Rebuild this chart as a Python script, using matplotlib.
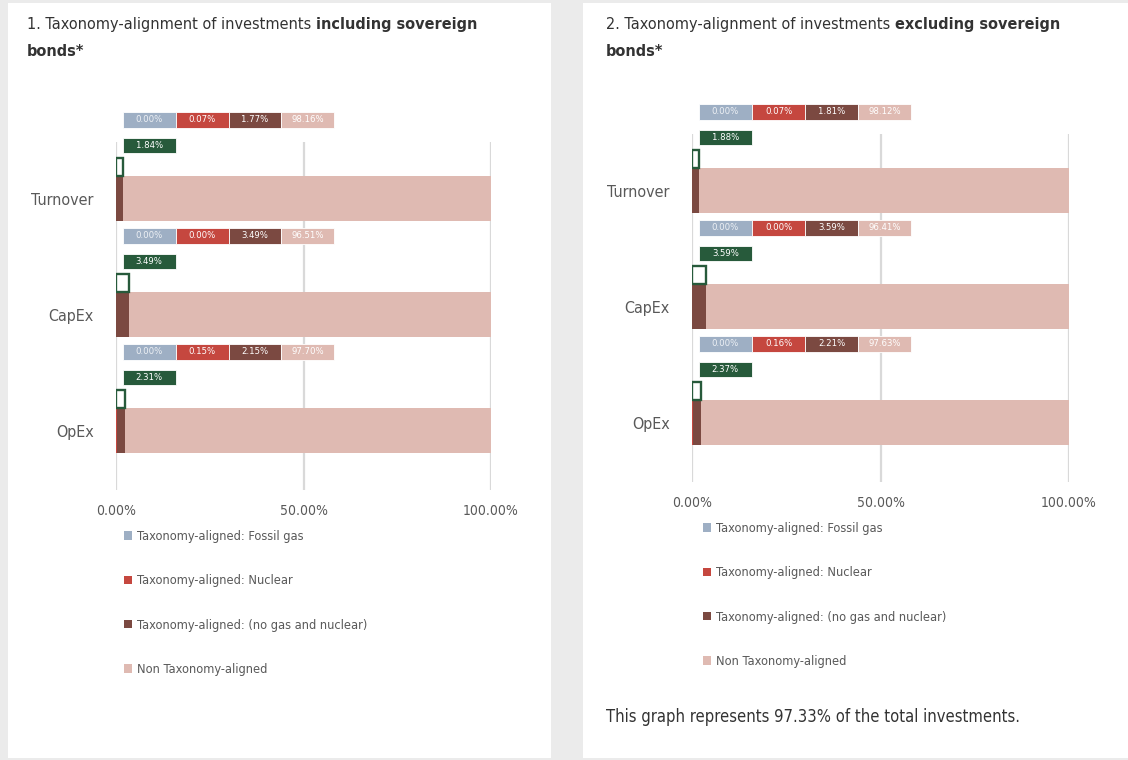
"""Taxonomy-alignment stacked bars, incl./excl. sovereign bonds."""

import matplotlib

matplotlib.use("Agg")
import matplotlib.pyplot as plt  # noqa: E402
import numpy as np  # noqa: E402
from matplotlib import font_manager  # noqa: E402
from matplotlib.patches import Rectangle  # noqa: E402

categories = ["Turnover", "CapEx", "OpEx"]
series_names = [
    "Taxonomy-aligned: Fossil gas",
    "Taxonomy-aligned: Nuclear",
    "Taxonomy-aligned: (no gas and nuclear)",
    "Non Taxonomy-aligned",
]

# including sovereign bonds
incl_gas = [0.00, 0.00, 0.00]
incl_nuclear = [0.07, 0.00, 0.15]
incl_other = [1.77, 3.49, 2.15]
incl_non = [98.16, 96.51, 97.70]
incl_total = [1.84, 3.49, 2.31]

# excluding sovereign bonds
excl_gas = [0.00, 0.00, 0.00]
excl_nuclear = [0.07, 0.00, 0.16]
excl_other = [1.81, 3.59, 2.21]
excl_non = [98.12, 96.41, 97.63]
excl_total = [1.88, 3.59, 2.37]

x_ticks = [0, 50, 100]

COLORS = ["#9eafc4", "#c5473f", "#7b4941", "#dfbab2"]
LABEL_TXT = ["#eef1f5", "#ffffff", "#ffffff", "#ffffff"]
GREEN = "#275a3b"
GRID = "#d9d9d9"
TEXT = "#595959"
BG = "#ebebeb"

W, H = 1128, 760

names = {f.name for f in font_manager.fontManager.ttflist}
if "Liberation Sans Narrow" in names:
    FAMILY = "Liberation Sans Narrow"
    STRETCH = "normal"
else:
    FAMILY = "DejaVu Sans"
    STRETCH = "condensed"
plt.rcParams["font.family"] = [FAMILY, "DejaVu Sans"]
plt.rcParams["font.stretch"] = STRETCH


def px(x, y):
    return x / W, 1 - y / H


def ax_rect(left, right, top, bottom):
    return [left / W, 1 - bottom / H, (right - left) / W, (bottom - top) / H]


def draw_panel(fig, rect, stacks, totals, legend_xy):
    ax = fig.add_axes(rect)
    ax.set_zorder(2)
    ypos = np.arange(len(categories))[::-1].astype(float)
    bar_h = 0.39
    for x in x_ticks:
        ax.axvline(x, color=GRID, lw=1.6, zorder=0)

    handles = []
    left = np.zeros(len(categories))
    for vals, color in zip(stacks, COLORS):
        vals = np.asarray(vals)
        bc = ax.barh(ypos, vals, left=left, height=bar_h, color=color,
                     edgecolor="none", zorder=2)
        handles.append(bc)
        left = left + vals

    # outlined total-aligned bar sitting on top of each stacked bar
    out_h = 0.155
    ax.barh(ypos + bar_h / 2 + out_h / 2, totals, height=out_h,
            facecolor="white", edgecolor=GREEN, lw=1.7, zorder=3)

    # data-label callouts
    x0, bw, bh = 1.8, 14.1, 0.13
    for i, yc in enumerate(ypos):
        for j, vals in enumerate(stacks):
            r = Rectangle((x0 + j * bw, yc + 0.68 - bh / 2), bw, bh,
                          facecolor=COLORS[j], edgecolor="white", lw=0.6,
                          clip_on=False, zorder=4)
            ax.add_patch(r)
            ax.text(x0 + j * bw + bw / 2, yc + 0.68, f"{vals[i]:.2f}%",
                    ha="center", va="center", fontsize=6.8,
                    color=LABEL_TXT[j], clip_on=False, zorder=5)
        r = Rectangle((x0, yc + 0.46 - bh / 2), bw, bh, facecolor=GREEN,
                      edgecolor="white", lw=0.6, clip_on=False, zorder=4)
        ax.add_patch(r)
        ax.text(x0 + bw / 2, yc + 0.46, f"{totals[i]:.2f}%", ha="center",
                va="center", fontsize=6.8, color="#ffffff", clip_on=False,
                zorder=5)

    ax.set_xlim(0, 100)
    ax.set_ylim(-0.51, 2.49)
    ax.set_xticks(x_ticks)
    ax.set_xticklabels([f"{v:.2f}%" for v in x_ticks])
    ax.set_yticks(ypos)
    ax.set_yticklabels(categories)
    ax.tick_params(axis="x", length=0, pad=10, labelsize=10, colors=TEXT)
    ax.tick_params(axis="y", length=0, pad=16, labelsize=11.5, colors=TEXT)
    for s in ax.spines.values():
        s.set_visible(False)
    ax.set_facecolor("none")

    leg = fig.legend(handles, series_names, loc="upper left",
                     bbox_to_anchor=px(*legend_xy),
                     bbox_transform=fig.transFigure, frameon=False,
                     fontsize=9.2, labelcolor=TEXT, borderpad=0,
                     borderaxespad=0, handlelength=0.65, handleheight=0.65,
                     handletextpad=0.4, labelspacing=2.45)
    leg.set_zorder(3)
    return ax


def draw_title(fig, renderer, x, y, normal, bold_1, bold_2):
    t = fig.text(*px(x, y), normal, fontsize=11.6, color="#333333",
                 ha="left", va="center", zorder=3)
    bb = t.get_window_extent(renderer)
    fig.text(bb.x1 / W, 1 - y / H, bold_1, fontsize=11.6, color="#333333",
             fontweight="bold", ha="left", va="center", zorder=3)
    fig.text(*px(x, y + 26), bold_2, fontsize=11.6, color="#333333",
             fontweight="bold", ha="left", va="center", zorder=3)


fig = plt.figure(figsize=(W / 100, H / 100), dpi=100)
fig.patch.set_facecolor(BG)
for (x0, x1) in [(8, 551), (583, 1140)]:
    fig.patches.append(Rectangle(px(x0, 758), (x1 - x0) / W, 755 / H,
                                 transform=fig.transFigure,
                                 facecolor="white", edgecolor="none",
                                 zorder=-10))

draw_panel(fig, ax_rect(116, 491, 142, 490),
           [incl_gas, incl_nuclear, incl_other, incl_non], incl_total,
           (124, 530))
draw_panel(fig, ax_rect(692, 1069, 134, 482),
           [excl_gas, excl_nuclear, excl_other, excl_non], excl_total,
           (703, 522))

renderer = fig.canvas.get_renderer()
draw_title(fig, renderer, 27, 25, "1. Taxonomy-alignment of investments ",
           "including sovereign", "bonds*")
draw_title(fig, renderer, 606, 25, "2. Taxonomy-alignment of investments ",
           "excluding sovereign", "bonds*")
fig.text(*px(606, 717), "This graph represents 97.33% of the total investments.",
         fontsize=11.9, color="#333333", ha="left", va="center", zorder=3)

fig.savefig("out.png", dpi=100, facecolor=BG)
